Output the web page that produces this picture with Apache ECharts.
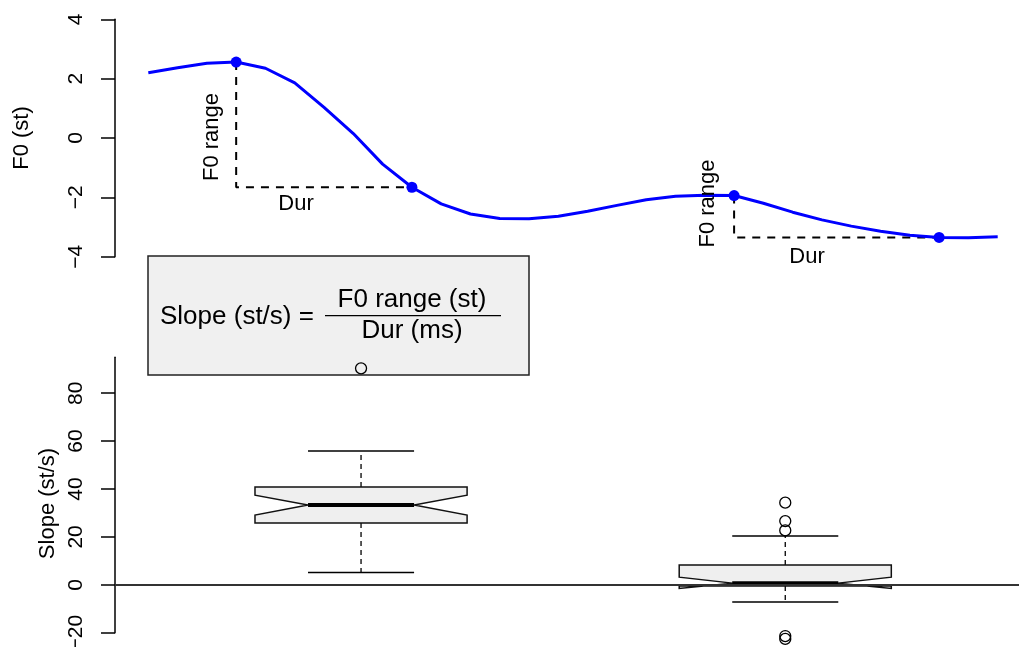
<!DOCTYPE html>
<html>
<head>
<meta charset="utf-8">
<script src="https://cdn.jsdelivr.net/npm/echarts@6/dist/echarts.min.js"></script>
<style>
  html, body { margin: 0; padding: 0; background: #fff; }
  #chart { width: 1019px; height: 647px; }
</style>
</head>
<body>
<div id="chart"></div>
<script>
const FONT = "'Liberation Sans', Arial, Helvetica, sans-serif";

// F0 contour (semitones), one value per sample
const f0Contour = [2.20, 2.37, 2.52, 2.56, 2.35, 1.86, 1.03, 0.15, -0.88, -1.66,
                   -2.22, -2.56, -2.71, -2.72, -2.64, -2.47, -2.27, -2.08, -1.96, -1.93,
                   -1.94, -2.20, -2.50, -2.76, -2.97, -3.14, -3.28, -3.35, -3.36, -3.33];
// sample indices where each fall starts and ends
const fallStart = [3, 20];
const fallEnd = [9, 27];

const f0Ticks = [-4, -2, 0, 2, 4];
const slopeTicks = [-20, 0, 20, 40, 60, 80];

// notched box statistics per group:
// [lower whisker, Q1, notch low, median, notch high, Q3, upper whisker]
const groupPos = [1, 2];
const boxStats = [
  [5.1, 25.8, 29.1, 33.3, 37.4, 40.8, 55.9],
  [-7.2, -0.5, -1.5, 0.7, 3.2, 8.3, 20.4]
];
const outliers = [
  [90.4],
  [34.3, 26.6, 22.7, -21.4, -22.6]
];

const minus = v => String(v).replace('-', '\u2212');

const contourData = f0Contour.map((v, i) => [i, v]);
const turnData = fallStart.concat(fallEnd).map(i => [i, f0Contour[i]]);
const guideSeries = fallStart.map((s, k) => {
  const e = fallEnd[k];
  return {
    type: 'line', xAxisIndex: 0, yAxisIndex: 0, symbol: 'none', silent: true,
    data: [[s, f0Contour[s]], [s, f0Contour[e]], [e, f0Contour[e]]],
    lineStyle: { color: '#000', width: 2, type: [8, 7] }, z: 2
  };
});

const boxData = boxStats.map((st, g) => [groupPos[g]].concat(st));
const outlierData = [];
outliers.forEach((arr, g) => arr.forEach(v => outlierData.push([groupPos[g], v])));

function renderBox(params, api) {
  const x = api.value(0);
  const w = 0.25;
  const wLo = api.value(1), q1 = api.value(2), nLo = api.value(3), med = api.value(4),
        nHi = api.value(5), q3 = api.value(6), wHi = api.value(7);
  const P = (dx, y) => api.coord([x + dx, y]);
  const seg = (a, b, style) => ({
    type: 'line', shape: { x1: a[0], y1: a[1], x2: b[0], y2: b[1] }, style: style
  });
  const dashed = { stroke: '#000', lineWidth: 1.3, lineDash: [5, 4] };
  const solid = { stroke: '#000', lineWidth: 1.5 };
  return {
    type: 'group',
    children: [
      seg(P(0, q3), P(0, wHi), dashed),
      seg(P(0, q1), P(0, wLo), dashed),
      seg(P(-w / 2, wHi), P(w / 2, wHi), solid),
      seg(P(-w / 2, wLo), P(w / 2, wLo), solid),
      {
        type: 'polygon',
        shape: { points: [P(-w, q1), P(-w, nLo), P(-w / 2, med), P(-w, nHi), P(-w, q3),
                          P(w, q3), P(w, nHi), P(w / 2, med), P(w, nLo), P(w, q1)] },
        style: { fill: '#efefef', stroke: '#111', lineWidth: 1.5 }
      },
      seg(P(-w / 2, med), P(w / 2, med), { stroke: '#000', lineWidth: 4 })
    ]
  };
}

const yAxisCommon = {
  type: 'value',
  splitLine: { show: false },
  axisLine: { show: true, onZero: false, lineStyle: { color: '#000', width: 1.5 } },
  axisTick: { show: true, length: 14, lineStyle: { color: '#000', width: 1.5 } },
  axisLabel: { rotate: 90, fontSize: 21, color: '#000', fontFamily: FONT, margin: 28, formatter: minus }
};

const chart = echarts.init(document.getElementById('chart'), null, { renderer: 'canvas' });
chart.setOption({
  animation: false,
  backgroundColor: '#fff',
  grid: [
    { left: 115, top: 19.3, width: 904, height: 237.4, outerBoundsMode: 'none', containLabel: false },
    { left: 115, top: 357.3, width: 904, height: 275.4, outerBoundsMode: 'none', containLabel: false }
  ],
  xAxis: [
    { gridIndex: 0, type: 'value', min: -1.137, max: 29.727, show: false },
    { gridIndex: 1, type: 'value', min: 0.42, max: 2.551, show: false }
  ],
  yAxis: [
    Object.assign({}, yAxisCommon, {
      gridIndex: 0, min: -4, max: 4, interval: 2,
      axisTick: Object.assign({}, yAxisCommon.axisTick, { customValues: f0Ticks }),
      axisLabel: Object.assign({}, yAxisCommon.axisLabel, { customValues: f0Ticks })
    }),
    Object.assign({}, yAxisCommon, {
      gridIndex: 1, min: -20, max: 95,
      axisTick: Object.assign({}, yAxisCommon.axisTick, { customValues: slopeTicks }),
      axisLabel: Object.assign({}, yAxisCommon.axisLabel, { customValues: slopeTicks })
    })
  ],
  graphic: [
    { type: 'text', x: 22, y: 138, rotation: Math.PI / 2,
      style: { text: 'F0 (st)', font: '22px ' + FONT, fill: '#000', align: 'center', verticalAlign: 'middle' } },
    { type: 'text', x: 48, y: 503.5, rotation: Math.PI / 2,
      style: { text: 'Slope (st/s)', font: '22px ' + FONT, fill: '#000', align: 'center', verticalAlign: 'middle' } },
    { type: 'text', x: 212, y: 137, rotation: Math.PI / 2, z: 5,
      style: { text: 'F0 range', font: '22px ' + FONT, fill: '#000', align: 'center', verticalAlign: 'middle' } },
    { type: 'text', x: 296, y: 204, z: 5,
      style: { text: 'Dur', font: '22px ' + FONT, fill: '#000', align: 'center', verticalAlign: 'middle' } },
    { type: 'text', x: 708, y: 203.5, rotation: Math.PI / 2, z: 5,
      style: { text: 'F0 range', font: '22px ' + FONT, fill: '#000', align: 'center', verticalAlign: 'middle' } },
    { type: 'text', x: 807, y: 257, z: 5,
      style: { text: 'Dur', font: '22px ' + FONT, fill: '#000', align: 'center', verticalAlign: 'middle' } },
    { type: 'rect', z: 0, shape: { x: 148, y: 256, width: 381, height: 119 },
      style: { fill: '#f0f0f0', stroke: '#222', lineWidth: 1.5 } },
    { type: 'text', x: 160, y: 317, z: 1,
      style: { text: 'Slope (st/s) =', font: '26px ' + FONT, fill: '#000', align: 'left', verticalAlign: 'middle' } },
    { type: 'text', x: 412, y: 300, z: 1,
      style: { text: 'F0 range (st)', font: '26px ' + FONT, fill: '#000', align: 'center', verticalAlign: 'middle' } },
    { type: 'line', z: 1, shape: { x1: 325, y1: 315.7, x2: 501, y2: 315.7 },
      style: { stroke: '#000', lineWidth: 1.3 } },
    { type: 'text', x: 412, y: 331, z: 1,
      style: { text: 'Dur (ms)', font: '26px ' + FONT, fill: '#000', align: 'center', verticalAlign: 'middle' } }
  ],
  series: guideSeries.concat([
    {
      type: 'line', xAxisIndex: 0, yAxisIndex: 0, data: contourData, symbol: 'none', silent: true,
      lineStyle: { color: '#0000ff', width: 3 }, z: 3
    },
    {
      type: 'scatter', xAxisIndex: 0, yAxisIndex: 0, data: turnData, symbol: 'circle', symbolSize: 11,
      itemStyle: { color: '#0000ff', opacity: 1 }, silent: true, z: 4
    },
    {
      type: 'custom', xAxisIndex: 1, yAxisIndex: 1, data: boxData, renderItem: renderBox,
      silent: true, clip: false, z: 2
    },
    {
      type: 'scatter', xAxisIndex: 1, yAxisIndex: 1, data: outlierData, symbol: 'circle',
      symbolSize: 11, clip: false, silent: true, z: 4,
      itemStyle: { color: 'rgba(0,0,0,0)', borderColor: '#000', borderWidth: 1.3, opacity: 1 },
      markLine: {
        silent: true, symbol: 'none', label: { show: false },
        lineStyle: { color: '#333', width: 1.8, type: 'solid' },
        data: [{ yAxis: 0 }]
      }
    }
  ])
});
</script>
</body>
</html>
